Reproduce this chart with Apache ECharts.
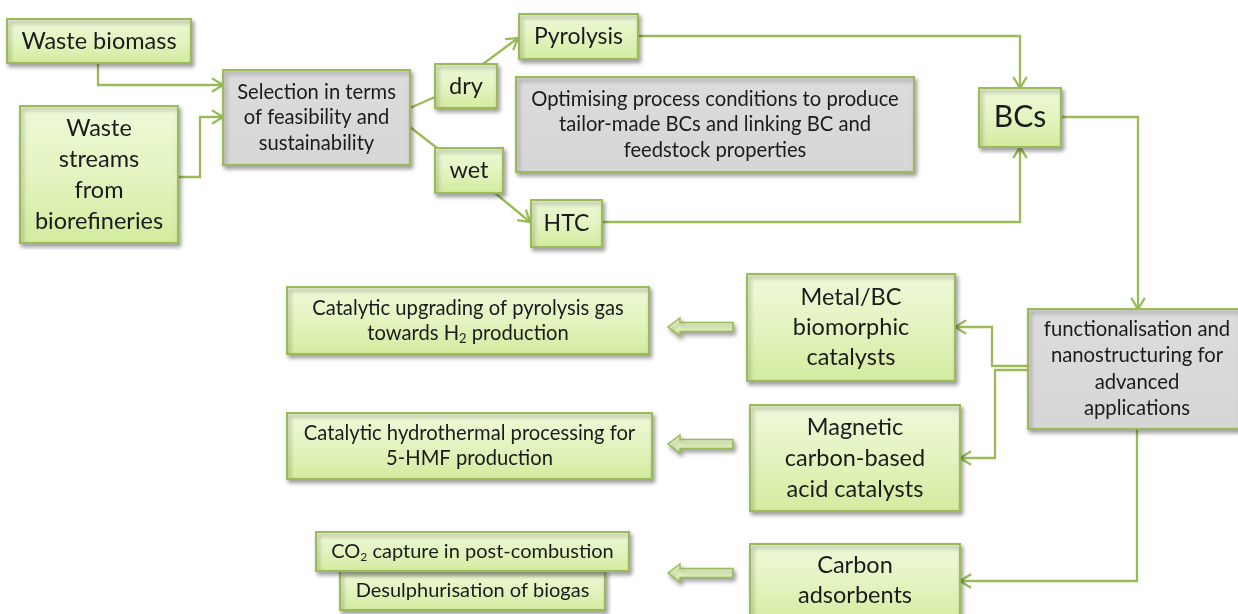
<!DOCTYPE html>
<html>
<head>
<meta charset="utf-8">
<script src="https://cdn.jsdelivr.net/npm/echarts@6/dist/echarts.min.js"></script>
<style>
html,body{margin:0;padding:0;background:#fff;}
#chart{width:1238px;height:614px;}
</style>
</head>
<body>
<div id="chart"></div>
<script>
// ---- Diagram content ----
const nodeLabels = [
  'Waste biomass',
  'Waste\nstreams\nfrom\nbiorefineries',
  'Selection in terms\nof feasibility and\nsustainability',
  'dry',
  'wet',
  'Pyrolysis',
  'Optimising process conditions to produce\ntailor-made BCs and linking BC and\nfeedstock properties',
  'HTC',
  'BCs',
  'functionalisation and\nnanostructuring for\nadvanced\napplications',
  'Metal/BC\nbiomorphic\ncatalysts',
  'Magnetic\ncarbon-based\nacid catalysts',
  'Carbon\nadsorbents',
  'Catalytic upgrading of pyrolysis gas\n{n|towards H}{s|2}{n| production}',
  'Catalytic hydrothermal processing for\n5-HMF production',
  'Desulphurisation of biogas',
  '{n|CO}{s|2}{n| capture in post-combustion}'
];
// node kind: g = green process box, k = grey box
const nodeKinds = ['g','g','k','g','g','g','k','g','g','k','g','g','g','g','g','g','g'];

// ---- Layout (diagram units) ----
const nodeBoxes = [
  [7,19,191,63],
  [20,106,178,243],
  [223,70,410,165],
  [435,64,497,108],
  [435,148,503,193],
  [519,14,638,59],
  [516,77,914,172],
  [531,200,602,247],
  [979,88,1061,147],
  [1028,309,1240,429],
  [747,274,955,381],
  [750,405,960,511],
  [750,544,960,624],
  [287,287,649,354],
  [287,413,652,479],
  [340,571,605,610],
  [316,532,629,571]
];
const nodeFont = [
  [23.5,30],[23.5,31],[20.2,25.5],[23.5,28],[23.5,28],[23,28],[20.2,25.5],[23,28],[30,34],
  [20.3,26.5],[23.5,30],[23.5,31],[23.5,30],[20.2,25],[20.2,25],[20,24],[20,24]
];
const edgePaths = [
  [[98,63],[98,85],[223,85]],
  [[178,177],[200,177],[200,117],[223,117]],
  [[410,108],[435,97]],
  [[410,127],[437,148]],
  [[483,64],[518,38]],
  [[495,193],[530,222]],
  [[638,36],[1020,36],[1020,88]],
  [[602,222],[1020,222],[1020,147]],
  [[1061,117],[1138,117],[1138,309]],
  [[1028,366],[992,366],[992,327],[955,327]],
  [[1028,370],[995,370],[995,458],[960,458]],
  [[1137,429],[1137,581],[960,581]]
];
const edgeArrow = [true,true,false,false,true,true,true,true,true,true,true,true];
// block arrows: [tailX, tipX, centerY]
const blockArrows = [[733,668,327],[733,668,444],[733,668,573]];

const FONT = 'Lato, "Open Sans", sans-serif';
const LINE = '#9bbb59';

const chart = echarts.init(document.getElementById('chart'), null, {renderer:'canvas'});

function greenFill(){
  return new echarts.graphic.LinearGradient(0,0,0,1,[
    {offset:0,color:'#eef9d9'},{offset:0.5,color:'#e3f4c0'},{offset:1,color:'#d3eb9e'}]);
}
function greyFill(){
  return new echarts.graphic.LinearGradient(0,0,0,1,[
    {offset:0,color:'#dcdcdc'},{offset:1,color:'#d6d6d6'}]);
}
const shadow = {shadowBlur:4, shadowOffsetX:2, shadowOffsetY:3, shadowColor:'rgba(0,0,0,0.35)'};

function renderBox(params, api){
  const i = api.value(0);
  const b = nodeBoxes[i];
  const p0 = api.coord([b[0], b[1]]), p1 = api.coord([b[2], b[3]]);
  const x = Math.min(p0[0],p1[0]), y = Math.min(p0[1],p1[1]);
  const w = Math.abs(p1[0]-p0[0]), h = Math.abs(p1[1]-p0[1]);
  const fs = nodeFont[i][0], lh = nodeFont[i][1];
  let cx = x + w/2, cy = y + h/2;
  if (i === 9) cx = x + 109;   // box extends past right edge
  if (i === 12) cy = y + 36;
  return {type:'group', children:[
    {type:'rect', shape:{x:x, y:y, width:w, height:h},
     style:Object.assign({fill: nodeKinds[i]==='g'?greenFill():greyFill(), stroke:LINE, lineWidth:2}, shadow)},
    {type:'text', x:cx, y:cy,
     style:{text:nodeLabels[i], fontFamily:FONT, fontSize:fs, lineHeight:lh, fill:'#1b1b1b',
       align:'center', verticalAlign:'middle',
       rich:{n:{fontFamily:FONT,fontSize:fs,lineHeight:lh,fill:'#1b1b1b'},
             s:{fontFamily:FONT,fontSize:Math.round(fs*0.62),fill:'#1b1b1b',padding:[11,0,0,0],lineHeight:lh}}}}
  ]};
}

function renderEdge(params, api){
  const i = api.value(0);
  const pts = edgePaths[i].map(p => api.coord(p));
  const children = [{type:'polyline', shape:{points:pts}, style:{stroke:LINE, lineWidth:2.3, fill:null}}];
  if (edgeArrow[i]) {
    const a = pts[pts.length-2], b = pts[pts.length-1];
    const ang = Math.atan2(b[1]-a[1], b[0]-a[0]);
    const L = 13, spread = 0.55;
    const l1 = [b[0]-L*Math.cos(ang-spread), b[1]-L*Math.sin(ang-spread)];
    const l2 = [b[0]-L*Math.cos(ang+spread), b[1]-L*Math.sin(ang+spread)];
    children.push({type:'polyline', shape:{points:[l1,b,l2]}, style:{stroke:LINE, lineWidth:2.3, fill:null}});
  }
  return {type:'group', children};
}

function renderBlock(params, api){
  const i = api.value(0);
  const a = blockArrows[i];
  const tail = api.coord([a[0], a[2]]), tip = api.coord([a[1], a[2]]);
  const cy = tail[1], sh = 4.5, hh = 9, hl = 12;
  const pts = [[tail[0],cy-sh],[tip[0]+hl,cy-sh],[tip[0]+hl,cy-hh],[tip[0],cy],[tip[0]+hl,cy+hh],[tip[0]+hl,cy+sh],[tail[0],cy+sh]];
  return {type:'polygon', shape:{points:pts},
    style:Object.assign({fill:greenFill(), stroke:LINE, lineWidth:1.5}, shadow)};
}

const idx = n => Array.from({length:n}, (_,k)=>[k]);

chart.setOption({
  animation:false,
  backgroundColor:'#ffffff',
  grid:{left:0,right:0,top:0,bottom:0},
  xAxis:{type:'value', min:0, max:1238, show:false},
  yAxis:{type:'value', min:0, max:614, inverse:true, show:false},
  series:[
    {type:'custom', clip:false, data:idx(edgePaths.length), renderItem:renderEdge, silent:true, z:1},
    {type:'custom', clip:false, data:idx(blockArrows.length), renderItem:renderBlock, silent:true, z:2},
    {type:'custom', clip:false, data:idx(nodeLabels.length), renderItem:renderBox, silent:true, z:3}
  ]
});
</script>
</body>
</html>
